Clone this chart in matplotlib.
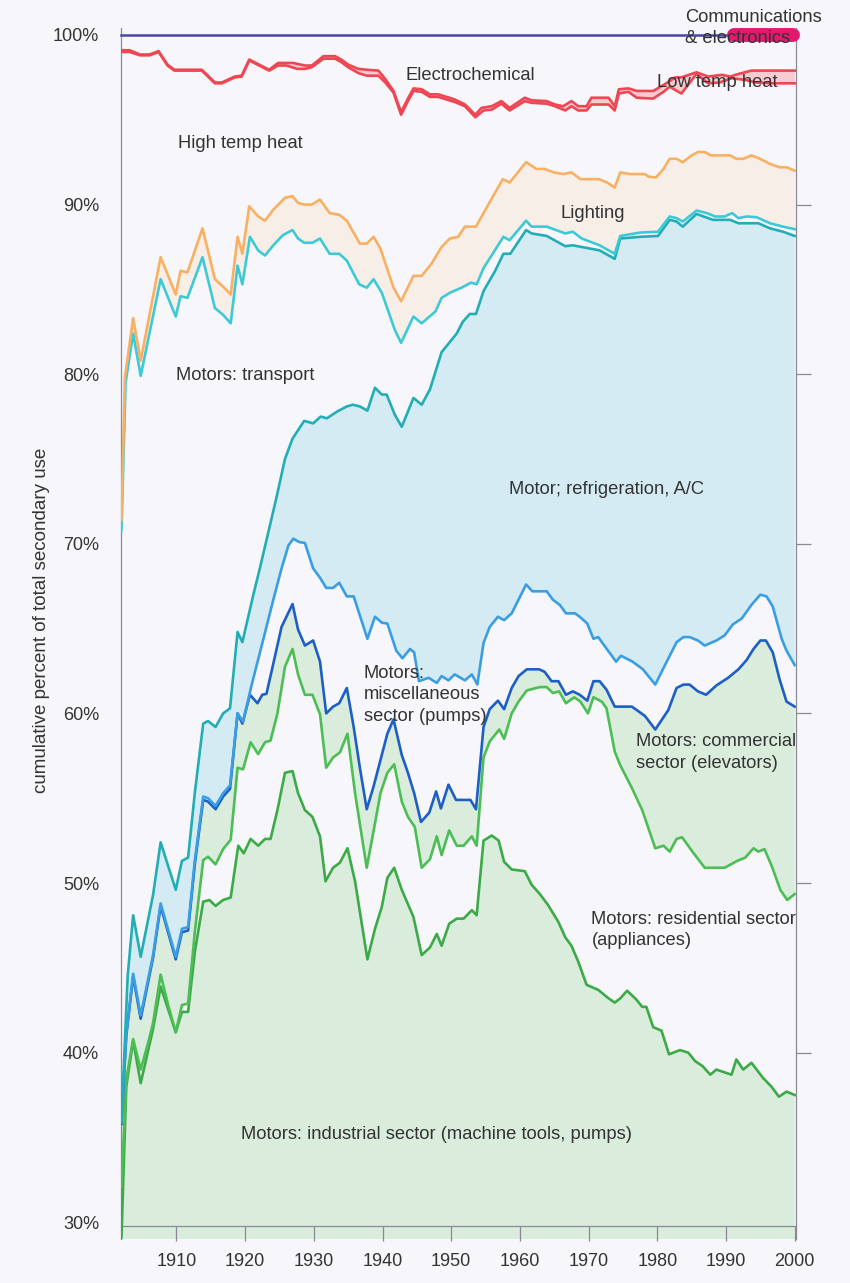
import numpy as np
import matplotlib
matplotlib.use("Agg")
import matplotlib.pyplot as plt

plt.rcParams['font.family'] = ['Liberation Sans', 'DejaVu Sans']

# ---------------- data (cumulative percent of total secondary use) ----------------
# industrial sector top (lower green)
ind_years = [1902.0, 1902.7, 1903.7, 1904.8, 1906.6, 1907.7, 1909.9, 1910.8, 1911.7, 1912.7,
             1913.9, 1914.8, 1915.7, 1916.8, 1917.9, 1919.0, 1919.8, 1920.8, 1921.9, 1922.9,
             1923.7, 1924.7, 1925.8, 1926.9, 1927.7, 1928.7, 1929.8, 1930.9, 1931.7, 1932.8,
             1933.8, 1934.9, 1936.0, 1937.8, 1938.9, 1939.9, 1940.7, 1941.7, 1942.8, 1944.5,
             1945.7, 1946.9, 1947.9, 1948.6, 1949.7, 1950.8, 1951.8, 1953.0, 1953.7, 1954.7,
             1955.9, 1956.9, 1957.7, 1958.8, 1960.7, 1961.7, 1962.9, 1964.1, 1965.6, 1966.6,
             1967.5, 1968.5, 1969.7, 1971.4, 1972.9, 1973.8, 1974.6, 1975.6, 1976.9, 1977.8,
             1978.4, 1979.4, 1980.6, 1981.7, 1983.3, 1984.5, 1985.5, 1986.6, 1987.7, 1988.6,
             1990.8, 1991.5, 1992.5, 1993.7, 1995.4, 1996.6, 1997.7, 1998.8, 2000.0]
ind_top = [29.1, 38.0, 40.7, 38.2, 41.4, 43.9, 41.2, 42.4, 42.4, 46.0,
           48.9, 49.0, 48.65, 49.0, 49.15, 52.2, 51.75, 52.6, 52.2, 52.6,
           52.6, 54.3, 56.5, 56.6, 55.3, 54.3, 53.9, 52.75, 50.1, 50.9,
           51.2, 52.05, 50.1, 45.5, 47.3, 48.6, 50.3, 50.9, 49.6, 48.0,
           45.75, 46.2, 47.0, 46.3, 47.6, 47.9, 47.9, 48.4, 48.1, 52.5,
           52.8, 52.5, 51.25, 50.8, 50.7, 49.9, 49.35, 48.7, 47.7, 46.8,
           46.3, 45.35, 44.0, 43.7, 43.2, 42.95, 43.2, 43.65, 43.15, 42.7,
           42.7, 41.5, 41.3, 39.9, 40.15, 40.0, 39.5, 39.2, 38.7, 39.0,
           38.7, 39.6, 39.0, 39.4, 38.5, 38.0, 37.4, 37.7, 37.5]

# residential sector top (upper green)
res_years = [1902.0, 1902.7, 1903.7, 1904.8, 1905.9, 1906.6, 1907.7, 1908.8, 1909.9, 1910.8,
             1911.7, 1912.7, 1913.9, 1914.6, 1915.7, 1916.8, 1917.9, 1918.9, 1919.7, 1920.8,
             1921.9, 1922.9, 1923.7, 1924.7, 1925.8, 1926.9, 1927.7, 1928.7, 1929.8, 1930.9,
             1931.8, 1932.8, 1933.8, 1934.9, 1936.0, 1937.7, 1938.8, 1939.7, 1940.7, 1941.7,
             1942.8, 1943.7, 1944.7, 1945.7, 1946.9, 1947.9, 1948.6, 1949.7, 1950.8, 1951.8,
             1953.0, 1953.7, 1954.7, 1955.6, 1957.0, 1957.7, 1958.8, 1959.8, 1961.0, 1961.9,
             1962.9, 1963.9, 1964.8, 1965.7, 1966.7, 1967.9, 1968.8, 1969.9, 1970.7, 1971.9,
             1972.6, 1973.8, 1974.6, 1976.3, 1977.8, 1979.7, 1980.9, 1981.8, 1982.8, 1983.6,
             1985.2, 1986.9, 1989.8, 1991.6, 1992.8, 1994.0, 1994.7, 1995.6, 1996.7, 1997.9,
             1998.9, 2000.0]
res_top = [32.1, 38.4, 40.8, 39.0, 40.6, 41.75, 44.6, 42.8, 41.2, 42.8,
           42.9, 47.2, 51.35, 51.55, 51.1, 52.0, 52.55, 56.8, 56.7, 58.3,
           57.6, 58.3, 58.4, 60.0, 62.75, 63.8, 62.3, 61.1, 61.1, 59.95,
           56.8, 57.4, 57.7, 58.8, 55.3, 50.9, 53.3, 55.3, 56.5, 57.0,
           54.8, 53.9, 53.3, 50.9, 51.4, 52.75, 51.65, 53.1, 52.2, 52.2,
           52.75, 52.2, 57.4, 58.35, 59.05, 58.5, 60.0, 60.7, 61.35, 61.45,
           61.55, 61.55, 61.2, 61.3, 60.6, 60.95, 60.7, 60.0, 60.95, 60.7,
           60.3, 57.75, 56.95, 55.6, 54.3, 52.05, 52.2, 51.85, 52.6, 52.7,
           51.8, 50.9, 50.9, 51.3, 51.5, 52.05, 51.85, 52.0, 50.95, 49.6,
           49.0, 49.35]

# commercial sector top (dark blue)
com_years = [1902.0, 1902.7, 1903.7, 1904.8, 1906.6, 1907.7, 1909.9, 1910.8, 1911.7, 1912.7,
             1913.9, 1914.6, 1915.7, 1916.8, 1917.8, 1918.9, 1919.6, 1920.7, 1921.8, 1922.5,
             1923.1, 1924.0, 1925.3, 1926.9, 1927.7, 1928.7, 1929.9, 1930.9, 1931.8, 1932.8,
             1933.7, 1934.8, 1935.8, 1936.7, 1937.7, 1938.7, 1939.7, 1940.7, 1941.6, 1942.8,
             1943.7, 1944.6, 1945.6, 1946.8, 1947.8, 1948.5, 1949.6, 1950.7, 1952.8, 1953.6,
             1954.7, 1955.6, 1956.8, 1957.7, 1958.8, 1959.8, 1961.0, 1962.8, 1963.6, 1964.6,
             1965.6, 1966.7, 1967.7, 1968.7, 1969.8, 1970.7, 1971.6, 1972.6, 1973.8, 1976.3,
             1978.2, 1979.7, 1981.6, 1982.8, 1983.8, 1984.7, 1985.9, 1987.1, 1988.6, 1990.3,
             1991.8, 1993.0, 1994.0, 1995.0, 1995.8, 1996.8, 1997.8, 1998.8, 2000.0]
com_top = [35.8, 41.0, 44.5, 42.0, 45.6, 48.65, 45.5, 47.1, 47.2, 51.2,
           54.9, 54.8, 54.35, 55.1, 55.55, 60.0, 59.4, 61.1, 60.6, 61.1,
           61.15, 62.75, 65.1, 66.45, 64.95, 64.0, 64.3, 63.05, 60.0, 60.4,
           60.6, 61.5, 59.2, 56.8, 54.35, 55.7, 57.25, 58.8, 59.65, 57.55,
           56.5, 55.3, 53.6, 54.15, 55.4, 54.4, 55.8, 54.9, 54.9, 54.35,
           59.2, 60.25, 60.75, 60.25, 61.5, 62.2, 62.6, 62.6, 62.45, 61.9,
           61.9, 61.1, 61.3, 61.1, 60.75, 61.9, 61.9, 61.4, 60.4, 60.4,
           59.85, 59.05, 60.2, 61.5, 61.7, 61.7, 61.3, 61.1, 61.65, 62.1,
           62.6, 63.15, 63.8, 64.3, 64.3, 63.6, 62.0, 60.7, 60.4]

# miscellaneous sector top (light blue)
misc_years = [1902.0, 1902.7, 1903.7, 1904.8, 1906.6, 1907.7, 1909.9, 1910.8, 1911.7, 1912.7,
              1913.9, 1914.6, 1915.7, 1916.8, 1917.8, 1918.9, 1919.7, 1920.9, 1922.6, 1924.1,
              1925.3, 1926.3, 1927.0, 1927.9, 1928.7, 1929.9, 1930.9, 1931.8, 1932.8, 1933.7,
              1934.8, 1935.8, 1937.8, 1938.9, 1939.9, 1940.7, 1942.0, 1942.9, 1944.0, 1944.6,
              1945.3, 1946.7, 1947.9, 1948.6, 1949.6, 1950.5, 1952.0, 1953.0, 1953.8, 1954.7,
              1955.6, 1956.8, 1957.7, 1958.8, 1960.9, 1961.8, 1963.9, 1964.8, 1965.8, 1966.7,
              1968.0, 1968.7, 1969.8, 1970.7, 1971.4, 1972.1, 1974.0, 1974.7, 1976.4, 1977.9,
              1979.7, 1981.3, 1982.8, 1983.8, 1984.7, 1985.9, 1986.9, 1988.6, 1989.8, 1991.0,
              1992.3, 1993.7, 1995.0, 1995.9, 1996.8, 1998.1, 1998.8, 2000.0]
misc_top = [35.9, 41.1, 44.65, 42.2, 45.75, 48.8, 45.65, 47.3, 47.4, 51.4,
            55.1, 55.0, 54.55, 55.3, 55.75, 60.0, 59.5, 61.6, 64.3, 66.7,
            68.55, 69.9, 70.3, 70.1, 70.05, 68.55, 68.0, 67.4, 67.4, 67.7,
            66.9, 66.9, 64.4, 65.7, 65.35, 65.3, 63.7, 63.25, 63.8, 63.6,
            61.9, 62.1, 61.8, 62.2, 61.95, 62.3, 61.95, 62.3, 61.7, 64.15,
            65.1, 65.7, 65.5, 65.9, 67.6, 67.2, 67.2, 66.7, 66.4, 65.9,
            65.9, 65.7, 65.3, 64.4, 64.5, 64.1, 63.05, 63.4, 63.05, 62.6,
            61.7, 63.0, 64.2, 64.5, 64.5, 64.3, 64.0, 64.3, 64.6, 65.25,
            65.6, 66.4, 67.0, 66.9, 66.3, 64.4, 63.7, 62.85]

# refrigeration / A/C top (dark teal)
refr_years = [1902.0, 1902.9, 1903.7, 1904.8, 1906.6, 1907.7, 1909.9, 1910.8, 1911.7, 1912.7,
              1913.9, 1914.6, 1915.7, 1916.8, 1917.8, 1918.9, 1919.6, 1921.2, 1922.2, 1923.1,
              1924.6, 1925.8, 1926.9, 1928.6, 1929.9, 1931.0, 1931.9, 1933.4, 1934.8, 1935.7,
              1936.7, 1937.8, 1938.9, 1939.9, 1940.6, 1941.8, 1942.8, 1944.5, 1945.7, 1946.9,
              1948.6, 1949.8, 1950.8, 1951.7, 1952.7, 1953.6, 1954.7, 1956.4, 1957.6, 1958.6,
              1960.9, 1961.7, 1963.9, 1966.6, 1967.7, 1969.0, 1971.6, 1973.8, 1974.6, 1977.5,
              1980.1, 1981.8, 1982.8, 1983.7, 1985.7, 1988.1, 1990.6, 1991.8, 1994.7, 1996.4,
              1998.3, 2000.0]
refr_top = [35.9, 44.5, 48.1, 45.65, 49.3, 52.4, 49.6, 51.3, 51.5, 55.4,
            59.4, 59.55, 59.2, 60.0, 60.3, 64.8, 64.2, 67.0, 68.65, 70.2,
            72.8, 75.0, 76.2, 77.25, 77.1, 77.5, 77.4, 77.8, 78.1, 78.2,
            78.1, 77.85, 79.2, 78.8, 78.8, 77.6, 76.9, 78.6, 78.2, 79.1,
            81.3, 81.9, 82.4, 83.1, 83.55, 83.55, 84.9, 86.1, 87.1, 87.1,
            88.5, 88.3, 88.15, 87.55, 87.6, 87.5, 87.3, 86.8, 88.0, 88.1,
            88.15, 89.1, 89.0, 88.7, 89.45, 89.1, 89.1, 88.9, 88.9, 88.6,
            88.4, 88.15]

# transport top (light cyan)
trans_years = [1902.0, 1902.6, 1903.7, 1904.8, 1907.7, 1909.9, 1910.6, 1911.6, 1913.8, 1915.6,
               1916.8, 1917.9, 1918.9, 1919.6, 1920.7, 1921.9, 1922.9, 1924.1, 1925.5, 1926.9,
               1927.7, 1928.6, 1929.8, 1930.9, 1932.3, 1933.7, 1934.8, 1936.6, 1937.7, 1938.7,
               1939.9, 1941.8, 1942.7, 1944.5, 1945.7, 1947.7, 1948.6, 1949.8, 1951.5, 1952.9,
               1953.7, 1954.7, 1957.6, 1958.5, 1960.9, 1961.7, 1963.9, 1966.6, 1967.7, 1969.0,
               1971.6, 1973.8, 1974.6, 1977.5, 1980.1, 1981.8, 1982.8, 1983.7, 1985.7, 1987.2,
               1988.4, 1989.8, 1990.9, 1991.8, 1993.0, 1994.5, 1996.4, 1998.3, 2000.0]
trans_top = [70.8, 79.5, 82.4, 79.9, 85.6, 83.4, 84.6, 84.5, 86.9, 83.9,
             83.5, 83.0, 86.4, 85.3, 88.1, 87.3, 87.0, 87.6, 88.2, 88.5,
             88.0, 87.75, 87.75, 88.0, 87.1, 87.1, 86.7, 85.3, 85.1, 85.6,
             84.8, 82.6, 81.85, 83.4, 83.0, 83.7, 84.5, 84.8, 85.1, 85.4,
             85.3, 86.25, 88.1, 87.9, 89.05, 88.7, 88.7, 88.3, 88.4, 88.0,
             87.6, 87.1, 88.15, 88.35, 88.4, 89.3, 89.2, 89.0, 89.65, 89.5,
             89.3, 89.3, 89.5, 89.2, 89.3, 89.25, 88.9, 88.7, 88.55]

# lighting top (orange)
light_years = [1902.0, 1902.5, 1903.7, 1904.8, 1907.7, 1909.9, 1910.6, 1911.6, 1913.8, 1915.6,
               1916.7, 1917.9, 1918.9, 1919.6, 1920.6, 1921.9, 1922.9, 1924.1, 1925.8, 1926.9,
               1927.7, 1928.6, 1929.7, 1930.9, 1932.3, 1933.7, 1934.8, 1936.7, 1937.7, 1938.7,
               1939.7, 1941.6, 1942.7, 1944.5, 1945.7, 1947.1, 1948.6, 1949.8, 1951.0, 1952.0,
               1953.6, 1955.4, 1957.5, 1958.5, 1960.9, 1962.4, 1963.6, 1964.9, 1966.3, 1967.5,
               1968.8, 1971.5, 1972.7, 1973.8, 1974.6, 1976.0, 1978.2, 1978.7, 1979.8, 1980.9,
               1981.8, 1982.8, 1983.7, 1985.0, 1985.9, 1986.9, 1987.8, 1990.6, 1991.5, 1992.5,
               1993.7, 1994.7, 1996.4, 1997.8, 1998.8, 2000.0]
light_top = [71.4, 79.8, 83.3, 80.8, 86.9, 84.7, 86.1, 86.0, 88.6, 85.6,
             85.2, 84.7, 88.1, 87.1, 89.9, 89.3, 89.05, 89.7, 90.4, 90.5,
             90.1, 90.0, 90.0, 90.3, 89.5, 89.4, 89.05, 87.7, 87.7, 88.1,
             87.4, 85.1, 84.3, 85.8, 85.8, 86.5, 87.5, 88.0, 88.1, 88.7,
             88.7, 90.0, 91.5, 91.3, 92.5, 92.1, 92.1, 91.9, 91.8, 91.9,
             91.5, 91.5, 91.3, 91.0, 91.9, 91.8, 91.8, 91.65, 91.6, 92.1,
             92.7, 92.7, 92.5, 92.9, 93.1, 93.1, 92.9, 92.9, 92.7, 92.7,
             92.9, 92.75, 92.4, 92.2, 92.2, 92.0]

# high temperature heat top (lower red)
htheat_years = [1902.0, 1903.2, 1904.7, 1906.1, 1907.4, 1908.7, 1909.7, 1913.7, 1915.6, 1916.6,
                1918.5, 1919.5, 1920.6, 1923.5, 1924.8, 1926.0, 1927.6, 1928.7, 1929.7, 1931.4,
                1933.1, 1934.0, 1935.0, 1936.5, 1937.7, 1939.4, 1940.4, 1941.6, 1942.7, 1943.7,
                1944.5, 1945.7, 1946.9, 1948.1, 1949.3, 1950.5, 1952.0, 1953.5, 1954.7, 1955.9,
                1957.3, 1958.5, 1960.7, 1961.7, 1963.9, 1965.1, 1966.6, 1967.5, 1968.5, 1969.7,
                1970.4, 1972.9, 1973.8, 1974.4, 1975.8, 1977.0, 1979.4, 1980.9, 1981.8, 1983.5,
                1985.7, 1987.4, 1989.1, 1990.8, 1992.8, 1994.3, 1996.6, 2000.0]
htheat_top = [99.0, 99.0, 98.8, 98.8, 99.0, 98.2, 97.9, 97.9, 97.15, 97.15,
              97.5, 97.55, 98.5, 97.9, 98.2, 98.2, 98.0, 98.0, 98.1, 98.6,
              98.6, 98.4, 98.1, 97.75, 97.6, 97.6, 97.2, 96.6, 95.3, 96.1,
              96.7, 96.65, 96.35, 96.35, 96.2, 96.05, 95.8, 95.15, 95.55, 95.6,
              95.95, 95.55, 96.1, 96.0, 95.95, 95.8, 95.55, 95.8, 95.55, 95.55,
              95.9, 95.9, 95.55, 96.55, 96.65, 96.3, 96.25, 96.65, 96.95, 96.55,
              97.7, 97.15, 97.2, 97.45, 97.35, 97.2, 97.15, 97.15]

# low temperature heat top (upper red)
ltheat_years = [1902.0, 1903.2, 1904.7, 1906.1, 1907.4, 1908.7, 1909.7, 1913.7, 1915.6, 1916.6,
                1918.5, 1919.5, 1920.6, 1923.5, 1924.8, 1927.0, 1928.7, 1929.7, 1931.4, 1933.1,
                1934.0, 1935.0, 1936.5, 1937.7, 1939.4, 1940.4, 1941.6, 1942.7, 1943.7, 1944.5,
                1945.7, 1946.9, 1948.1, 1949.3, 1950.5, 1952.0, 1953.5, 1954.4, 1955.9, 1957.3,
                1958.5, 1960.7, 1961.7, 1963.9, 1965.1, 1966.3, 1967.5, 1968.5, 1969.7, 1970.4,
                1972.9, 1973.8, 1974.4, 1975.8, 1977.0, 1979.4, 1980.9, 1982.6, 1983.5, 1985.7,
                1987.4, 1989.4, 1990.6, 1991.8, 1993.7, 2000.0]
ltheat_top = [99.1, 99.1, 98.85, 98.85, 99.05, 98.25, 97.95, 97.95, 97.2, 97.2,
              97.55, 97.6, 98.55, 97.95, 98.35, 98.35, 98.2, 98.2, 98.75, 98.75,
              98.55, 98.25, 98.0, 97.95, 97.9, 97.4, 96.7, 95.45, 96.25, 96.85,
              96.8, 96.5, 96.5, 96.35, 96.2, 95.9, 95.3, 95.7, 95.8, 96.1,
              95.7, 96.3, 96.15, 96.1, 95.9, 95.8, 96.1, 95.8, 95.8, 96.3,
              96.3, 95.8, 96.8, 96.85, 96.7, 96.7, 97.05, 97.5, 97.5, 97.8,
              97.55, 97.65, 97.55, 97.7, 97.9, 97.9]

# electrochemical top
elec_years = [1902.0, 2000.0]
elec_top = [100.0, 100.0]

# communications & electronics band
comm_years = [1991.2, 1999.8]
comm_level = [100.0, 100.0]

ytick_vals = [30, 40, 50, 60, 70, 80, 90, 100]
ytick_labels = ['30%', '40%', '50%', '60%', '70%', '80%', '90%', '100%']
xtick_vals = [1910, 1920, 1930, 1940, 1950, 1960, 1970, 1980, 1990, 2000]
xtick_labels = [str(v) for v in xtick_vals]

# ---------------- figure ----------------
BG = '#F6F6FB'
fig = plt.figure(figsize=(8.5, 12.83), dpi=100, facecolor=BG)
ax = fig.add_axes([0.1429, 0.03414, 0.9362 - 0.1429, 0.97802 - 0.03414])
ax.set_facecolor(BG)
ax.set_xlim(1902, 2000.15)
ax.set_ylim(29.0, 100.4)
ybot = ax.get_ylim()[0]

def band(xa, ya, xb, yb, color):
    xs = np.concatenate([np.asarray(xa, float), np.asarray(xb, float)[::-1]])
    ys = np.concatenate([np.asarray(ya, float), np.asarray(yb, float)[::-1]])
    ax.fill(xs, ys, color=color, lw=0, zorder=1)

GREEN_FILL = '#DAECDC'
BLUE_FILL = '#D4EBF4'
PEACH_FILL = '#F8EEE8'
PINK_FILL = '#F6CCD1'

band(ind_years, ind_top, [1902, 2000], [ybot, ybot], GREEN_FILL)
band(res_years, res_top, com_years, com_top, GREEN_FILL)
band(misc_years, misc_top, refr_years, refr_top, BLUE_FILL)
band(trans_years, trans_top, light_years, light_top, PEACH_FILL)
band(htheat_years, htheat_top, ltheat_years, ltheat_top, PINK_FILL)

LW = 1.9
ax.plot(ind_years, ind_top, color='#3DAA48', lw=LW, zorder=3)
ax.plot(res_years, res_top, color='#4DBD55', lw=LW, zorder=3)
ax.plot(com_years, com_top, color='#1E5FC6', lw=LW, zorder=3)
ax.plot(misc_years, misc_top, color='#3A9EE2', lw=LW, zorder=3)
ax.plot(refr_years, refr_top, color='#22AEB4', lw=LW, zorder=3)
ax.plot(trans_years, trans_top, color='#3DCAD6', lw=LW, zorder=3)
ax.plot(light_years, light_top, color='#F8B062', lw=LW, zorder=3)
ax.plot(htheat_years, htheat_top, color='#EE4652', lw=LW, zorder=3)
ax.plot(ltheat_years, ltheat_top, color='#EE4652', lw=LW, zorder=3)
ax.plot(elec_years, elec_top, color='#4B44AA', lw=1.8, zorder=4, clip_on=False)
ax.plot(comm_years, comm_level, color='#E3196F', lw=10, solid_capstyle='round',
        zorder=5, clip_on=False)

# ---------------- axes styling ----------------
SP = '#8A8A95'
ax.spines['top'].set_visible(False)
for s in ['left', 'right', 'bottom']:
    ax.spines[s].set_color(SP)
    ax.spines[s].set_linewidth(0.9)
ax.spines['bottom'].set_position(('data', 29.8))

ax.set_yticks(ytick_vals)
ax.set_yticklabels(ytick_labels)
ax.yaxis.set_ticks_position('both')
ax.tick_params(axis='y', which='major', length=11, width=0.9, color=SP, direction='out',
               pad=5, labelsize=13, labelcolor='#333333')
for val, t in zip(ytick_vals, ax.yaxis.get_major_ticks()):
    t.tick1line.set_visible(False)
    if val in (30, 100):
        t.tick2line.set_visible(False)

ax.set_xticks(xtick_vals)
ax.set_xticklabels(xtick_labels)
ax.tick_params(axis='x', which='major', length=11, width=0.9, color=SP, direction='out',
               pad=9, labelsize=13, labelcolor='#333333')

fig.text(42 / 850, 1 - 620 / 1283, 'cumulative percent of total secondary use',
         rotation=90, ha='center', va='center', fontsize=13.5, color='#333333')

# ---------------- labels ----------------
TXT = dict(fontsize=13.2, color='#333333', ha='left', va='center', zorder=6)
LS = 1.33
ax.text(1984.0, 100.4, 'Communications\n& electronics', linespacing=LS, **TXT)
ax.text(1943.4, 97.6, 'Electrochemical', **TXT)
ax.text(1980.0, 97.2, 'Low temp heat', **TXT)
ax.text(1910.3, 93.6, 'High temp heat', **TXT)
ax.text(1965.9, 89.45, 'Lighting', **TXT)
ax.text(1909.9, 79.9, 'Motors: transport', **TXT)
ax.text(1958.4, 73.2, 'Motor; refrigeration, A/C', **TXT)
ax.text(1937.3, 61.1, 'Motors:\nmiscellaneous\nsector (pumps)', linespacing=LS, **TXT)
ax.text(1976.9, 57.7, 'Motors: commercial\nsector (elevators)', linespacing=LS, **TXT)
ax.text(1970.4, 47.25, 'Motors: residential sector\n(appliances)', linespacing=LS, **TXT)
ax.text(1919.4, 35.2, 'Motors: industrial sector (machine tools, pumps)', **TXT)

fig.savefig('out.png', dpi=100, facecolor=BG)
